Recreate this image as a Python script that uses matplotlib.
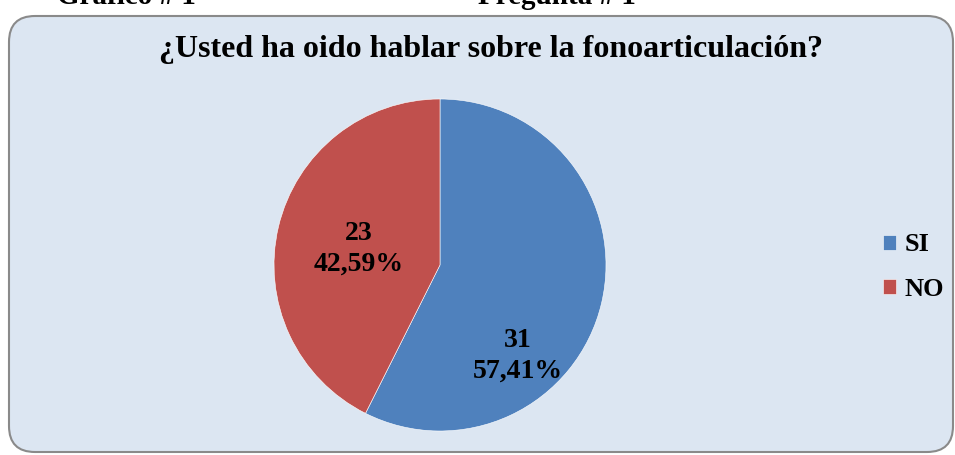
import matplotlib
matplotlib.use("Agg")
import matplotlib.pyplot as plt
from matplotlib.patches import FancyBboxPatch

# data
categories = ["SI", "NO"]
counts = [31, 23]
percent_labels = ["57,41%", "42,59%"]
colors = ["#4F81BD", "#C0504D"]

title = "¿Usted ha oido hablar sobre la fonoarticulación?"
serif = "Liberation Serif"

W, H = 955, 455
fig = plt.figure(figsize=(W / 100, H / 100), dpi=100)
fig.patch.set_facecolor("white")

# background axes in pixel units for the rounded frame
bg = fig.add_axes([0, 0, 1, 1])
bg.set_xlim(0, W)
bg.set_ylim(H, 0)
bg.axis("off")
frame = FancyBboxPatch((9, 16), 944, 436, boxstyle="round,pad=0,rounding_size=26",
                       facecolor="#DCE6F2", edgecolor="#8A8A8A", linewidth=1.5)
bg.add_patch(frame)
bg.text(126, 4, "Gráfico # 1", ha="center", va="baseline", fontsize=21,
        fontweight="bold", family=serif)
bg.text(557, 4, "Pregunta # 1", ha="center", va="baseline", fontsize=21,
        fontweight="bold", family=serif)
bg.text(491, 50, title, ha="center", va="center", fontsize=23,
        fontweight="bold", family=serif)

# pie axes: centre (440, 265), radius 166 px
r = 166
cx, cy = 440, 265
ax = fig.add_axes([(cx - r) / W, (H - cy - r) / H, 2 * r / W, 2 * r / H])
wedges, _ = ax.pie(counts, colors=colors, startangle=90, counterclock=False,
                   wedgeprops=dict(edgecolor="white", linewidth=0.4))
ax.set_xlim(-1, 1)
ax.set_ylim(-1, 1)
ax.set_aspect("equal")

label_pos = [(0.47, -0.55), (-0.49, 0.10)]
for (x, y), n, p in zip(label_pos, counts, percent_labels):
    ax.text(x, y, f"{n}\n{p}", ha="center", va="center", fontsize=20,
            fontweight="bold", family=serif, linespacing=1.3)

fig.legend(wedges, categories, loc="center left", bbox_to_anchor=(872 / W, 1 - 267 / H),
           frameon=False, handlelength=0.5, handleheight=0.5, handletextpad=0.35,
           labelspacing=0.8, borderaxespad=0, prop=dict(family=serif, weight="bold", size=19))

fig.savefig("out.png", dpi=100)
